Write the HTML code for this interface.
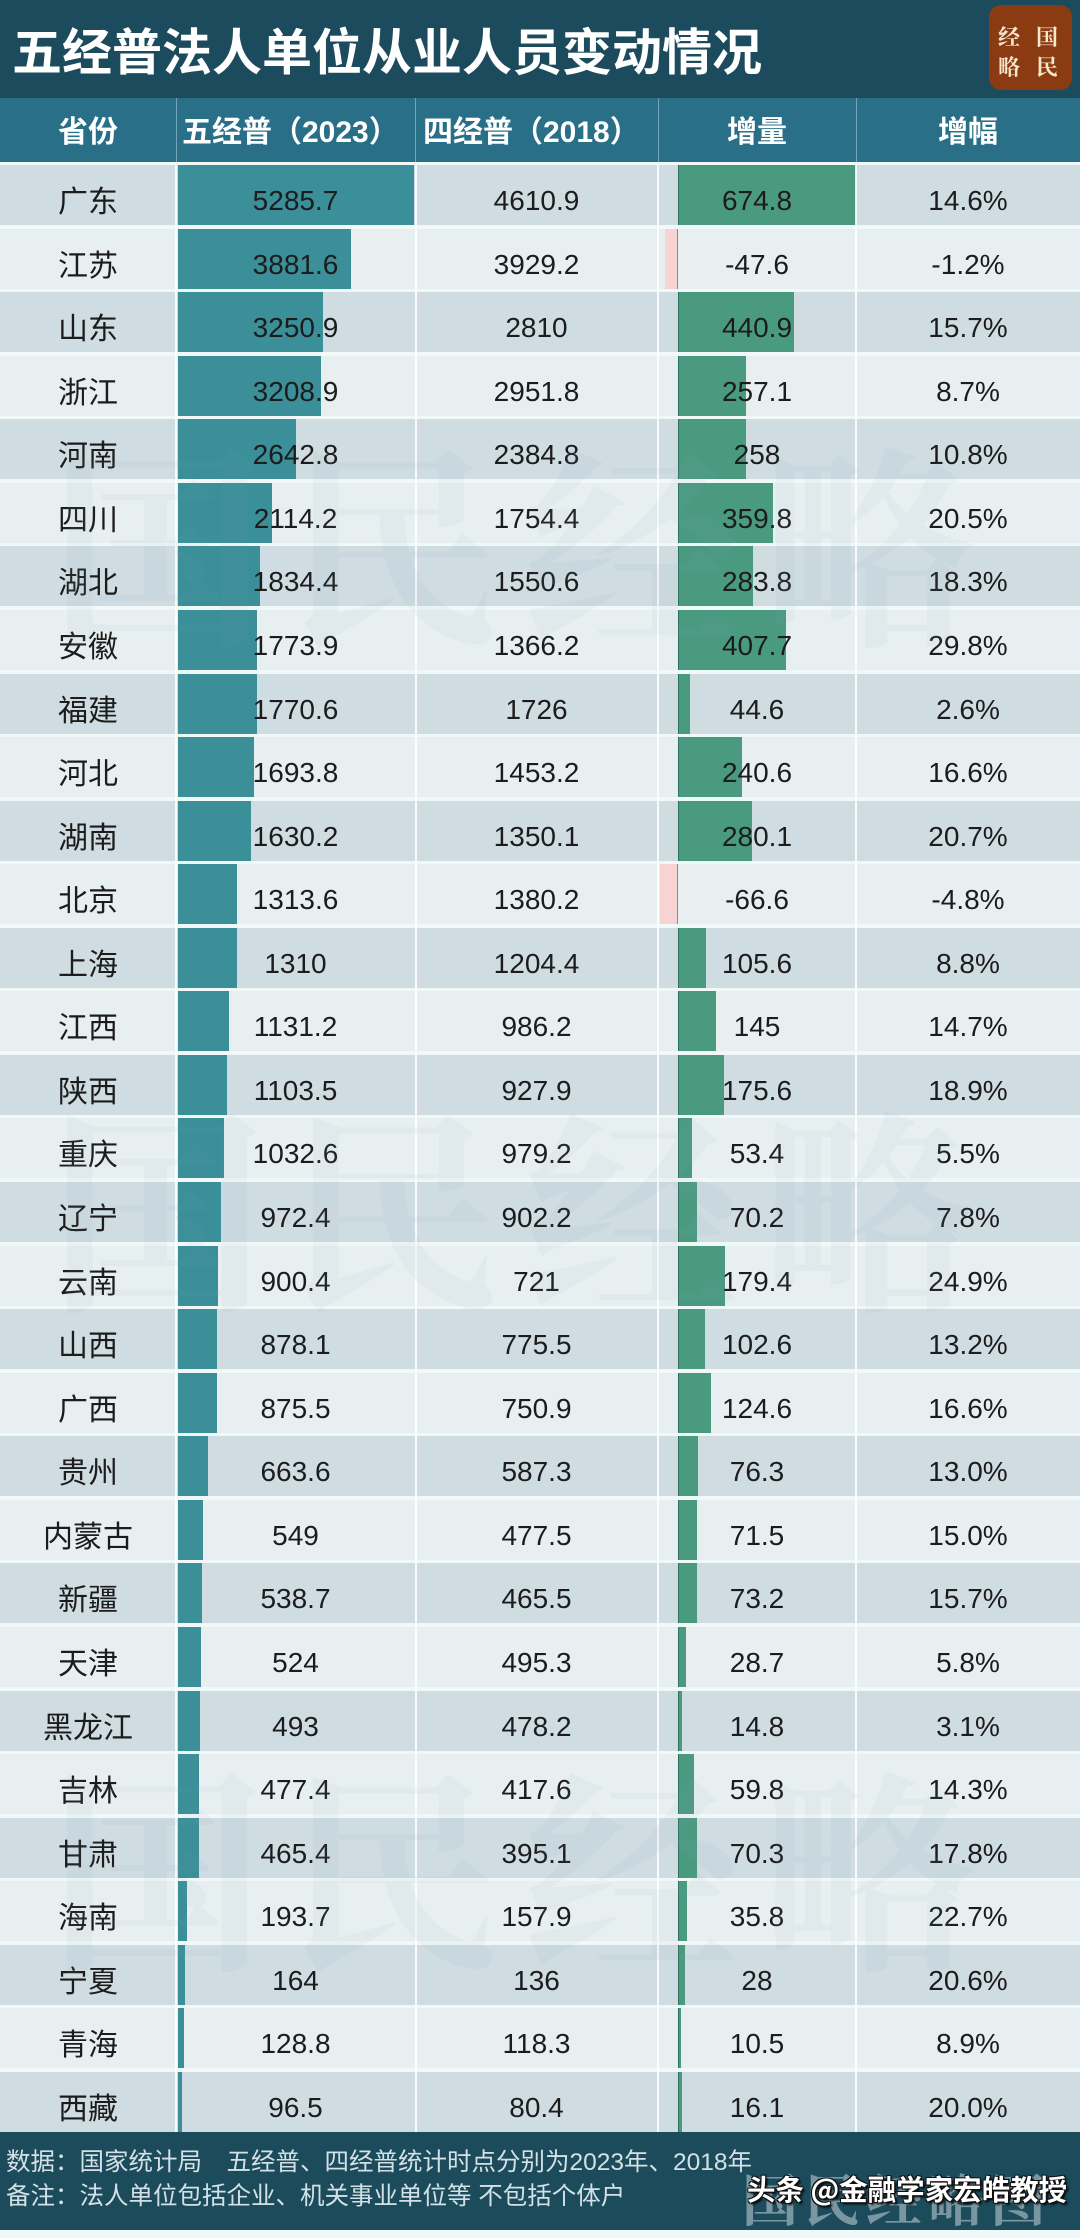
<!DOCTYPE html>
<html><head><meta charset="utf-8">
<style>
*{box-sizing:border-box}
html,body{margin:0;padding:0}
body{width:1080px;height:2230px;position:relative;overflow:hidden;background:#f1f8f8;font-family:"Liberation Sans","Noto Sans CJK SC",sans-serif;color:#1c1c1c}
.title{position:absolute;left:0;top:0;width:1080px;height:98px;background:#1b4b5d}
.title .t{position:absolute;left:12px;top:0;height:98px;line-height:98px;font-family:"Noto Sans CJK SC",sans-serif;font-weight:bold;font-size:50px;color:#fff;white-space:nowrap}
.logo{position:absolute;left:989px;top:5px;width:83px;height:85px;border-radius:12px;background:#8b3b12}
.logo span{position:absolute;width:26px;height:26px;line-height:26px;text-align:center;font-family:"Noto Serif CJK SC","Noto Sans CJK SC",serif;font-weight:bold;font-size:22px;color:#f6e8cc}
.head{position:absolute;left:0;top:98px;width:1080px;height:64px;background:#2a6f88}
.head div{position:absolute;top:0;height:64px;line-height:64px;font-family:"Liberation Sans","Noto Sans CJK SC",sans-serif;font-weight:bold;font-size:30px;color:#fff;white-space:nowrap}
.head .s{position:relative;top:3px}
.hl{position:absolute;top:98px;height:64px;width:1.5px;background:#6fa6ba}
#rows{position:absolute;left:0;top:165px;width:1080px}
.r{position:relative;height:60px;margin-bottom:3.57px;background:#e8eff1}
.r.d{background:#cfdde3}
.r>div{position:absolute;top:0;height:60px;line-height:60px;text-align:center;white-space:nowrap;font-size:28px}
.r span{position:relative;top:6px;z-index:2}
.c1{left:0;width:176px;font-family:"Noto Sans CJK SC",sans-serif!important;font-size:30px!important}
.c1 span{top:4px!important}
.c2{left:176px;width:239px}
.c3{left:415px;width:243px}
.c4{left:658px;width:198px}
.c5{left:856px;width:224px}
.c2 i{position:absolute;left:2px;top:0;height:60px;background:#3a8f99}
.c4 i{position:absolute;left:20px;top:0;height:60px;background:#4a9a80;border-left:1px solid #2e715d}
.c4 b{position:absolute;top:0;height:60px;background:#f8d3d3;border-right:1.5px solid #8a8a8a}
.vl{position:absolute;top:165px;height:1967px;width:2px;background:rgba(255,255,255,0.85);z-index:3}
.wm{position:absolute;left:50px;font-family:"Noto Serif CJK SC","Noto Sans CJK SC",serif;font-weight:bold;font-size:215px;letter-spacing:22px;color:rgba(135,160,175,0.08);white-space:nowrap;z-index:4;line-height:1}
.foot{position:absolute;left:0;top:2132px;width:1080px;height:98px;background:#1c4b5b}
.foot .l{position:absolute;left:6px;font-family:"Liberation Sans","Noto Sans CJK SC",sans-serif;font-size:24.5px;color:#d3e1e6;white-space:nowrap;line-height:34px;height:34px}
.foot .big{position:absolute;left:742px;top:36px;font-family:"Noto Serif CJK SC","Noto Sans CJK SC",serif;font-weight:bold;font-size:56px;letter-spacing:6px;color:rgba(215,228,232,0.5);white-space:nowrap;line-height:60px}
.foot .tt{position:absolute;left:747px;top:39px;font-family:"Noto Sans CJK SC",sans-serif;font-weight:bold;font-size:28.5px;color:#fff;white-space:nowrap;line-height:36px;text-shadow:-1px -1px 0 #111,1px -1px 0 #111,-1px 1px 0 #111,1px 1px 0 #111,2px 2px 2px #000}
</style></head>
<body>
<div class="title"><div class="t">五经普法人单位从业人员变动情况</div>
<div class="logo">
<span style="left:7px;top:19px">经</span><span style="left:45px;top:19px">国</span>
<span style="left:7px;top:49px">略</span><span style="left:45px;top:49px">民</span>
</div></div>

<div class="head">
<div style="left:0;width:176px;text-align:center"><span class="s">省份</span></div>
<div style="left:182px"><span class="s">五经普（2023）</span></div>
<div style="left:423px"><span class="s">四经普（2018）</span></div>
<div style="left:658px;width:198px;text-align:center"><span class="s">增量</span></div>
<div style="left:856px;width:224px;text-align:center"><span class="s">增幅</span></div>
</div>
<div class="hl" style="left:175.5px"></div>
<div class="hl" style="left:414.5px"></div>
<div class="hl" style="left:657.5px"></div>
<div class="hl" style="left:855.5px"></div>

<div id="rows">
<div class="r d"><div class="c1"><span>广东</span></div><div class="c2"><i style="width:236px"></i><span>5285.7</span></div><div class="c3"><span>4610.9</span></div><div class="c4"><i style="width:178px"></i><span>674.8</span></div><div class="c5"><span>14.6%</span></div></div>
<div class="r"><div class="c1"><span>江苏</span></div><div class="c2"><i style="width:173.3px"></i><span>3881.6</span></div><div class="c3"><span>3929.2</span></div><div class="c4"><b style="left:7.4px;width:12.6px"></b><span>-47.6</span></div><div class="c5"><span>-1.2%</span></div></div>
<div class="r d"><div class="c1"><span>山东</span></div><div class="c2"><i style="width:145.2px"></i><span>3250.9</span></div><div class="c3"><span>2810</span></div><div class="c4"><i style="width:116.3px"></i><span>440.9</span></div><div class="c5"><span>15.7%</span></div></div>
<div class="r"><div class="c1"><span>浙江</span></div><div class="c2"><i style="width:143.3px"></i><span>3208.9</span></div><div class="c3"><span>2951.8</span></div><div class="c4"><i style="width:67.8px"></i><span>257.1</span></div><div class="c5"><span>8.7%</span></div></div>
<div class="r d"><div class="c1"><span>河南</span></div><div class="c2"><i style="width:118px"></i><span>2642.8</span></div><div class="c3"><span>2384.8</span></div><div class="c4"><i style="width:68.1px"></i><span>258</span></div><div class="c5"><span>10.8%</span></div></div>
<div class="r"><div class="c1"><span>四川</span></div><div class="c2"><i style="width:94.4px"></i><span>2114.2</span></div><div class="c3"><span>1754.4</span></div><div class="c4"><i style="width:94.9px"></i><span>359.8</span></div><div class="c5"><span>20.5%</span></div></div>
<div class="r d"><div class="c1"><span>湖北</span></div><div class="c2"><i style="width:81.9px"></i><span>1834.4</span></div><div class="c3"><span>1550.6</span></div><div class="c4"><i style="width:74.9px"></i><span>283.8</span></div><div class="c5"><span>18.3%</span></div></div>
<div class="r"><div class="c1"><span>安徽</span></div><div class="c2"><i style="width:79.2px"></i><span>1773.9</span></div><div class="c3"><span>1366.2</span></div><div class="c4"><i style="width:107.5px"></i><span>407.7</span></div><div class="c5"><span>29.8%</span></div></div>
<div class="r d"><div class="c1"><span>福建</span></div><div class="c2"><i style="width:79.1px"></i><span>1770.6</span></div><div class="c3"><span>1726</span></div><div class="c4"><i style="width:11.8px"></i><span>44.6</span></div><div class="c5"><span>2.6%</span></div></div>
<div class="r"><div class="c1"><span>河北</span></div><div class="c2"><i style="width:75.6px"></i><span>1693.8</span></div><div class="c3"><span>1453.2</span></div><div class="c4"><i style="width:63.5px"></i><span>240.6</span></div><div class="c5"><span>16.6%</span></div></div>
<div class="r d"><div class="c1"><span>湖南</span></div><div class="c2"><i style="width:72.8px"></i><span>1630.2</span></div><div class="c3"><span>1350.1</span></div><div class="c4"><i style="width:73.9px"></i><span>280.1</span></div><div class="c5"><span>20.7%</span></div></div>
<div class="r"><div class="c1"><span>北京</span></div><div class="c2"><i style="width:58.7px"></i><span>1313.6</span></div><div class="c3"><span>1380.2</span></div><div class="c4"><b style="left:2.4px;width:17.6px"></b><span>-66.6</span></div><div class="c5"><span>-4.8%</span></div></div>
<div class="r d"><div class="c1"><span>上海</span></div><div class="c2"><i style="width:58.5px"></i><span>1310</span></div><div class="c3"><span>1204.4</span></div><div class="c4"><i style="width:27.9px"></i><span>105.6</span></div><div class="c5"><span>8.8%</span></div></div>
<div class="r"><div class="c1"><span>江西</span></div><div class="c2"><i style="width:50.5px"></i><span>1131.2</span></div><div class="c3"><span>986.2</span></div><div class="c4"><i style="width:38.2px"></i><span>145</span></div><div class="c5"><span>14.7%</span></div></div>
<div class="r d"><div class="c1"><span>陕西</span></div><div class="c2"><i style="width:49.3px"></i><span>1103.5</span></div><div class="c3"><span>927.9</span></div><div class="c4"><i style="width:46.3px"></i><span>175.6</span></div><div class="c5"><span>18.9%</span></div></div>
<div class="r"><div class="c1"><span>重庆</span></div><div class="c2"><i style="width:46.1px"></i><span>1032.6</span></div><div class="c3"><span>979.2</span></div><div class="c4"><i style="width:14.1px"></i><span>53.4</span></div><div class="c5"><span>5.5%</span></div></div>
<div class="r d"><div class="c1"><span>辽宁</span></div><div class="c2"><i style="width:43.4px"></i><span>972.4</span></div><div class="c3"><span>902.2</span></div><div class="c4"><i style="width:18.5px"></i><span>70.2</span></div><div class="c5"><span>7.8%</span></div></div>
<div class="r"><div class="c1"><span>云南</span></div><div class="c2"><i style="width:40.2px"></i><span>900.4</span></div><div class="c3"><span>721</span></div><div class="c4"><i style="width:47.3px"></i><span>179.4</span></div><div class="c5"><span>24.9%</span></div></div>
<div class="r d"><div class="c1"><span>山西</span></div><div class="c2"><i style="width:39.2px"></i><span>878.1</span></div><div class="c3"><span>775.5</span></div><div class="c4"><i style="width:27.1px"></i><span>102.6</span></div><div class="c5"><span>13.2%</span></div></div>
<div class="r"><div class="c1"><span>广西</span></div><div class="c2"><i style="width:39.1px"></i><span>875.5</span></div><div class="c3"><span>750.9</span></div><div class="c4"><i style="width:32.9px"></i><span>124.6</span></div><div class="c5"><span>16.6%</span></div></div>
<div class="r d"><div class="c1"><span>贵州</span></div><div class="c2"><i style="width:29.6px"></i><span>663.6</span></div><div class="c3"><span>587.3</span></div><div class="c4"><i style="width:20.1px"></i><span>76.3</span></div><div class="c5"><span>13.0%</span></div></div>
<div class="r"><div class="c1"><span>内蒙古</span></div><div class="c2"><i style="width:24.5px"></i><span>549</span></div><div class="c3"><span>477.5</span></div><div class="c4"><i style="width:18.9px"></i><span>71.5</span></div><div class="c5"><span>15.0%</span></div></div>
<div class="r d"><div class="c1"><span>新疆</span></div><div class="c2"><i style="width:24.1px"></i><span>538.7</span></div><div class="c3"><span>465.5</span></div><div class="c4"><i style="width:19.3px"></i><span>73.2</span></div><div class="c5"><span>15.7%</span></div></div>
<div class="r"><div class="c1"><span>天津</span></div><div class="c2"><i style="width:23.4px"></i><span>524</span></div><div class="c3"><span>495.3</span></div><div class="c4"><i style="width:7.6px"></i><span>28.7</span></div><div class="c5"><span>5.8%</span></div></div>
<div class="r d"><div class="c1"><span>黑龙江</span></div><div class="c2"><i style="width:22px"></i><span>493</span></div><div class="c3"><span>478.2</span></div><div class="c4"><i style="width:3.9px"></i><span>14.8</span></div><div class="c5"><span>3.1%</span></div></div>
<div class="r"><div class="c1"><span>吉林</span></div><div class="c2"><i style="width:21.3px"></i><span>477.4</span></div><div class="c3"><span>417.6</span></div><div class="c4"><i style="width:15.8px"></i><span>59.8</span></div><div class="c5"><span>14.3%</span></div></div>
<div class="r d"><div class="c1"><span>甘肃</span></div><div class="c2"><i style="width:20.8px"></i><span>465.4</span></div><div class="c3"><span>395.1</span></div><div class="c4"><i style="width:18.5px"></i><span>70.3</span></div><div class="c5"><span>17.8%</span></div></div>
<div class="r"><div class="c1"><span>海南</span></div><div class="c2"><i style="width:8.6px"></i><span>193.7</span></div><div class="c3"><span>157.9</span></div><div class="c4"><i style="width:9.4px"></i><span>35.8</span></div><div class="c5"><span>22.7%</span></div></div>
<div class="r d"><div class="c1"><span>宁夏</span></div><div class="c2"><i style="width:7.3px"></i><span>164</span></div><div class="c3"><span>136</span></div><div class="c4"><i style="width:7.4px"></i><span>28</span></div><div class="c5"><span>20.6%</span></div></div>
<div class="r"><div class="c1"><span>青海</span></div><div class="c2"><i style="width:5.8px"></i><span>128.8</span></div><div class="c3"><span>118.3</span></div><div class="c4"><i style="width:2.8px"></i><span>10.5</span></div><div class="c5"><span>8.9%</span></div></div>
<div class="r d"><div class="c1"><span>西藏</span></div><div class="c2"><i style="width:4.3px"></i><span>96.5</span></div><div class="c3"><span>80.4</span></div><div class="c4"><i style="width:4.2px"></i><span>16.1</span></div><div class="c5"><span>20.0%</span></div></div>
</div>

<div class="vl" style="left:175px"></div>
<div class="vl" style="left:414.5px"></div>
<div class="vl" style="left:657px"></div>
<div class="vl" style="left:855px"></div>

<div class="wm" style="top:430px">国民经略</div>
<div class="wm" style="top:1095px">国民经略</div>
<div class="wm" style="top:1755px">国民经略</div>

<div class="foot">
<div class="l" style="top:14px">数据：国家统计局　五经普、四经普统计时点分别为2023年、2018年</div>
<div class="l" style="top:48px">备注：法人单位包括企业、机关事业单位等 不包括个体户</div>
<div class="big">国民经略图</div>
<div class="tt">头条 @金融学家宏皓教授</div>
</div>
</body></html>
